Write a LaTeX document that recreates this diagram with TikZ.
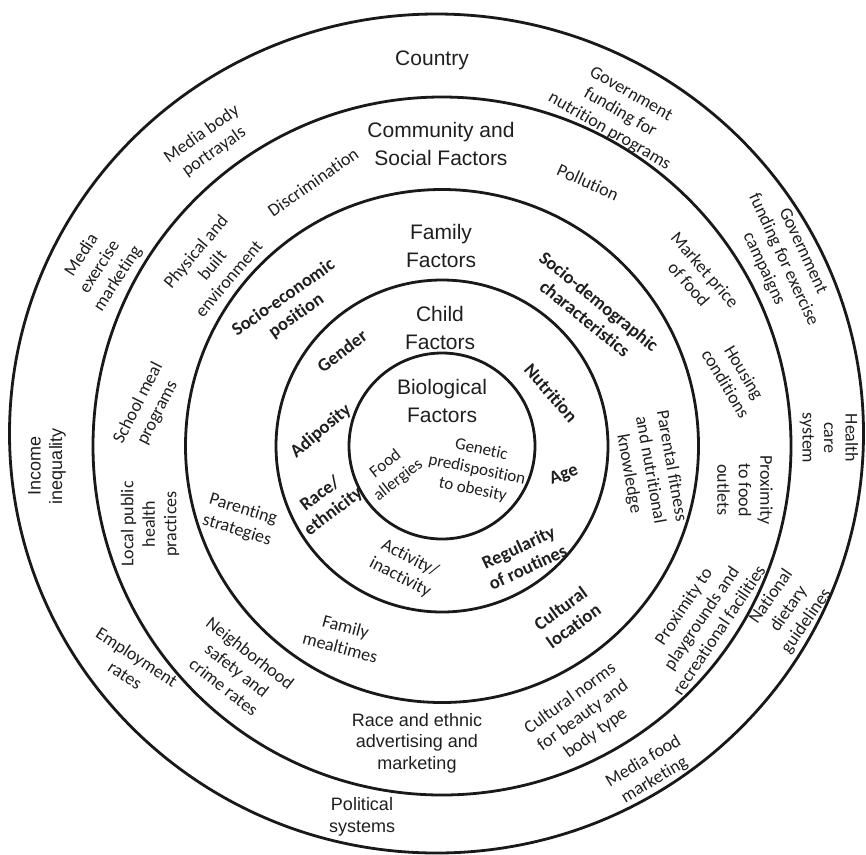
\documentclass[tikz,border=0pt]{standalone}
\usepackage{fontspec}
\setmainfont{Carlito}[Ligatures=NoCommon]
\newfontfamily\arialfont{Liberation Sans}
\begin{document}
\begin{tikzpicture}[x=1pt,y=-1pt,
  ring/.style={line width=2.8pt, draw=black!90},
  lab/.style={align=center, inner sep=0pt, text=black!88, font=\fontsize{18}{21.5}\selectfont},
  smalllab/.style={lab, font=\fontsize{17}{20.5}\selectfont},
  boldlab/.style={lab, font=\fontsize{18.5}{22}\selectfont\bfseries},
  title/.style={align=center, inner sep=0pt, text=black!88, font=\arialfont\fontsize{21}{28}\selectfont},
  sanslab/.style={align=center, inner sep=0pt, text=black!88, font=\arialfont\fontsize{18}{21.5}\selectfont}]
\useasboundingbox (0,0) rectangle (866,854);
\fill[white] (0,0) rectangle (866,854);
% rings
\draw[ring] (436.5,433.5) ellipse [x radius=427, y radius=419.5];
\draw[ring] (442,446) circle [radius=349];
\draw[ring] (442,446) circle [radius=256.5];
\draw[ring] (442,446) circle [radius=166];
\draw[ring] (442,446) circle [radius=93];
% titles
\node[title] (country) at (432,60) {Country};
\node[title] (community) at (441,144) {Community and\\Social Factors};
\node[title] (family) at (441,246) {Family\\Factors};
\node[title] (child) at (440,328) {Child\\Factors};
\node[title] (bio) at (442,401) {Biological\\Factors};
% sans labels
\node[sanslab] (political) at (362,817) {Political\\systems};
\node[sanslab] (raceadv) at (417,743) {Race and ethnic\\advertising and\\marketing};
\node[sanslab, rotate=90] (income) at (47,466) {Income\\inequality};
% country ring
\node[lab, rotate=-30] (govnut) at (620,113) {Government\\funding for\\nutrition programs};
\node[lab, rotate=35] (mediabody) at (208,143) {Media body\\portrayals};
\node[lab, rotate=57] (mediaex) at (100,267) {Media\\exercise\\marketing};
\node[lab, rotate=-65] (govex) at (783,260) {Government\\funding for exercise\\campaigns};
\node[lab, rotate=-90] (health) at (829,438) {Health\\care\\system};
\node[lab, rotate=55] (national) at (789,609) {National\\dietary\\guidelines};
\node[lab, rotate=31] (mediafood) at (649,771) {Media food\\marketing};
\node[lab, rotate=-33] (employment) at (131,666) {Employment\\rates};
% community ring
\node[lab, rotate=35] (discrimination) at (313,182) {Discrimination};
\node[lab, rotate=-24] (pollution) at (588,182) {Pollution};
\node[lab, rotate=50] (physical) at (212,265) {Physical and\\built\\environment};
\node[lab, rotate=-49] (market) at (697,277) {Market price\\of food};
\node[lab, rotate=63] (school) at (148,408) {School meal\\programs};
\node[lab, rotate=90] (localpublic) at (150,524) {Local public\\health\\practices};
\node[lab, rotate=-59] (housing) at (735,378) {Housing\\conditions};
\node[lab, rotate=-90] (proxfood) at (745,490) {Proximity\\to food\\outlets};
\node[lab, rotate=56] (proxplay) at (701,618) {Proximity to\\playgrounds and\\recreational facilities};
\node[lab, rotate=36] (cultnorms) at (583,716) {Cultural norms\\for beauty and\\body type};
\node[lab, rotate=-38] (neighborhood) at (237,670) {Neighborhood\\safety and\\crime rates};
% family ring
\node[boldlab, rotate=35] (socioecon) at (290,307) {Socio-economic\\position};
\node[boldlab, rotate=-39] (sociodem) at (592,310) {Socio-demographic\\characteristics};
\node[lab, rotate=-80] (parental) at (650,470) {Parental fitness\\and nutritional\\knowledge};
\node[lab, rotate=-17] (parenting) at (240,520) {Parenting\\strategies};
\node[lab, rotate=-15] (mealtimes) at (343,637) {Family\\mealtimes};
\node[boldlab, rotate=36] (cultural) at (567,617) {Cultural\\location};
% child ring
\node[boldlab, rotate=37] (gender) at (342,351) {Gender};
\node[boldlab, rotate=-49] (nutrition) at (551,393) {Nutrition};
\node[boldlab, rotate=40] (adiposity) at (321,431) {Adiposity};
\node[boldlab, rotate=20] (age) at (564,475) {Age};
\node[boldlab, rotate=37] (race) at (327,503) {Race/\\ethnicity};
\node[boldlab, rotate=25] (regularity) at (523,557) {Regularity\\of routines};
\node[lab, rotate=-27] (activity) at (405,568) {Activity/\\inactivity};
% biological
\node[smalllab, rotate=38] (food) at (392,472) {Food\\allergies};
\node[smalllab, rotate=-12] (genetic) at (477,470) {Genetic\\predisposition\\to obesity};
\end{tikzpicture}
\end{document}
